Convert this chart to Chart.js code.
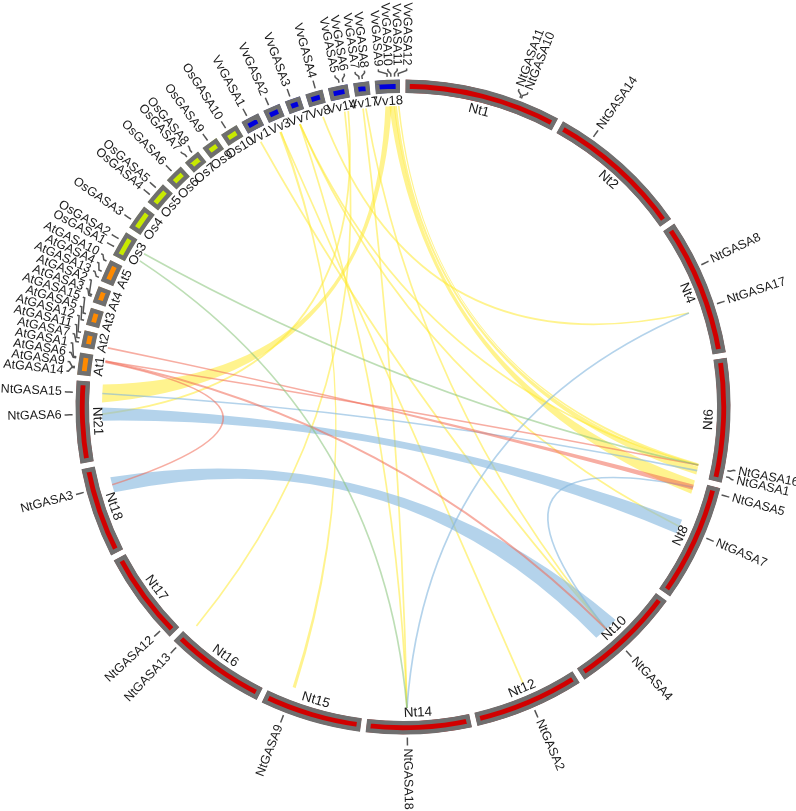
<!DOCTYPE html>
<html>
<head>
<meta charset="utf-8">
<script src="https://cdn.jsdelivr.net/npm/chart.js@4.4.1/dist/chart.umd.min.js"></script>
<style>
  html, body { margin: 0; padding: 0; background: #fff; }
  #caja { width: 796px; height: 811px; position: relative; }
</style>
</head>
<body>
<div id="caja"><canvas id="lienzo"></canvas></div>
<script>
// Chromosomes clockwise from the top, with their relative sizes on the ring
const chromosomes = ["Nt1","Nt2","Nt4","Nt6","Nt8","Nt10","Nt12","Nt14","Nt15","Nt16","Nt17","Nt18","Nt21",
                     "At1","At2","At3","At4","At5",
                     "Os3","Os4","Os5","Os6","Os7","Os9","Os10",
                     "Vv1","Vv3","Vv7","Vv8","Vv14","Vv17","Vv18"];
const chromosomeSizes = [27.7,25.6,24.3,21.9,20.9,19.9,19.4,18.6,17.9,17.8,16.5,15.9,14.5,
                         3.8,2.9,3.0,2.9,3.9,
                         4.5,4.4,4.0,3.3,2.9,2.9,3.1,
                         3.2,3.0,2.7,3.0,3.4,2.7,4.3];

// GASA genes: chromosome and relative position (0 = start, 1 = end)
const geneNames = ["NtGASA11","NtGASA10","NtGASA14","NtGASA8","NtGASA17","NtGASA16","NtGASA1","NtGASA5","NtGASA7",
                   "NtGASA4","NtGASA2","NtGASA18","NtGASA9","NtGASA13","NtGASA12","NtGASA3","NtGASA6","NtGASA15",
                   "AtGASA14","AtGASA9","AtGASA6","AtGASA1","AtGASA7","AtGASA11","AtGASA12","AtGASA5","AtGASA15",
                   "AtGASA3","AtGASA2","AtGASA13","AtGASA4","AtGASA10",
                   "OsGASA1","OsGASA2","OsGASA3","OsGASA4","OsGASA5","OsGASA6","OsGASA7","OsGASA8","OsGASA9","OsGASA10",
                   "VvGASA1","VvGASA2","VvGASA3","VvGASA4","VvGASA5","VvGASA6","VvGASA7","VvGASA8",
                   "VvGASA9","VvGASA10","VvGASA11","VvGASA12"];
const geneChromosomes = ["Nt1","Nt1","Nt2","Nt4","Nt4","Nt6","Nt6","Nt8","Nt8",
                         "Nt10","Nt12","Nt14","Nt15","Nt16","Nt17","Nt18","Nt21","Nt21",
                         "At1","At1","At1","At1","At2","At2","At2","At3","At3",
                         "At4","At4","At5","At5","At5",
                         "Os3","Os3","Os4","Os5","Os5","Os6","Os7","Os7","Os9","Os10",
                         "Vv1","Vv3","Vv7","Vv8","Vv14","Vv14","Vv17","Vv17",
                         "Vv18","Vv18","Vv18","Vv18"];
const genePositions = [0.73,0.74,0.23,0.35,0.65,0.90,0.95,0.05,0.43,
                       0.56,0.47,0.61,0.76,0.94,0.11,0.75,0.59,0.86,
                       0.30,0.35,0.75,0.80,0.25,0.50,0.85,0.20,0.60,
                       0.30,0.40,0.10,0.40,0.90,
                       0.30,0.65,0.30,0.30,0.70,0.50,0.30,0.70,0.50,0.40,
                       0.40,0.40,0.40,0.63,0.60,0.80,0.40,0.60,
                       0.50,0.65,0.80,0.95];

// Collinear pairs and the size of the block at each end
const linkSources = ["VvGASA9","VvGASA10","VvGASA11","VvGASA12","VvGASA1","VvGASA2","VvGASA2","VvGASA3","VvGASA3",
                     "VvGASA4","VvGASA5","VvGASA7","VvGASA8","VvGASA6","VvGASA3",
                     "NtGASA6","NtGASA3","NtGASA15","NtGASA17","NtGASA5",
                     "AtGASA6","AtGASA1","AtGASA7","AtGASA1",
                     "OsGASA2","OsGASA1"];
const linkTargets = ["NtGASA15","NtGASA5","NtGASA1","NtGASA16","NtGASA4","NtGASA2","NtGASA9","NtGASA18","NtGASA7",
                     "NtGASA17","NtGASA13","NtGASA18","NtGASA4","NtGASA6","NtGASA16",
                     "NtGASA7","NtGASA4","NtGASA1","NtGASA18","NtGASA4",
                     "NtGASA3","NtGASA16","NtGASA5","NtGASA4",
                     "NtGASA16","NtGASA18"];
const linkSourceSpans = [1.2,1.0,0.6,0.3,0.3,0.3,0.5,0.3,0.3,
                         0.3,0.3,0.3,0.3,0.3,0.3,
                         2.5,3.0,0.3,0.3,0.3,
                         0.3,0.3,0.3,0.3,
                         0.3,0.3];
const linkTargetSpans = [3.4,2.6,1.5,0.6,0.3,0.3,0.6,0.3,0.3,
                         0.3,0.3,0.3,0.3,0.3,0.3,
                         2.8,5.0,0.3,0.3,0.3,
                         0.3,0.3,1.0,0.4,
                         0.3,0.3];

const GAP = 1.1;
const barColors = { Nt: '#d10000', At: '#ff8a00', Os: '#c8ea00', Vv: '#0000dc' };
const linkColors = {
  Nt: 'rgba(130,182,222,0.6)',
  At: 'rgba(240,105,85,0.55)',
  Os: 'rgba(135,195,120,0.55)',
  Vv: 'rgba(255,234,50,0.55)'
};
const especie = n => n.slice(0, 2);

// ring data: every chromosome followed by a blank gap slice
const ringValues = [], ringColors = [], ringBorders = [], ringLabels = [];
chromosomes.forEach((c, i) => {
  ringValues.push(chromosomeSizes[i], GAP);
  ringLabels.push(c, '');
  ringColors.push(barColors[especie(c)], 'rgba(0,0,0,0)');
  ringBorders.push(4, 0);
});

const FUENTE = "'Liberation Sans', Arial, sans-serif";

function punto(cx, cy, r, a) {
  return [cx + r * Math.cos(a), cy + r * Math.sin(a)];
}
function gradosArriba(a) {
  let d = a * 180 / Math.PI + 90;
  d = ((d % 360) + 360) % 360;
  return d;
}

const circosPlugin = {
  id: 'circos',
  afterDatasetsDraw(chart) {
    const ctx = chart.ctx;
    const arcs = chart.getDatasetMeta(0).data;
    const cx = arcs[0].x, cy = arcs[0].y;
    const rOut = arcs[0].outerRadius;
    const rLink = rOut - 26.5;
    const unidad = (arcs[0].endAngle - arcs[0].startAngle) / chromosomeSizes[0];

    const arcoDe = {};
    chromosomes.forEach((c, i) => arcoDe[c] = arcs[2 * i]);

    const genes = geneNames.map((name, i) => {
      const arc = arcoDe[geneChromosomes[i]];
      return { name, a: arc.startAngle + genePositions[i] * (arc.endAngle - arc.startAngle) };
    });
    const genPorNombre = {};
    genes.forEach(g => genPorNombre[g.name] = g);

    // ---- links ----
    ctx.save();
    linkSources.forEach((s, j) => {
      const gs = genPorNombre[s], gt = genPorNombre[linkTargets[j]];
      const key = especie(s) === 'Nt' ? especie(linkTargets[j]) : especie(s);
      const color = linkColors[key];
      let diff = gt.a - gs.a;
      while (diff > Math.PI) diff -= 2 * Math.PI;
      while (diff < -Math.PI) diff += 2 * Math.PI;
      const d = Math.abs(diff);
      const k = 0.25 * (1 - d / Math.PI);
      const mid = gs.a + diff / 2;
      const [qx, qy] = punto(cx, cy, k * rLink, mid);
      const ws = linkSourceSpans[j] * unidad, wt = linkTargetSpans[j] * unidad;
      if (linkSourceSpans[j] <= 0.4 && linkTargetSpans[j] <= 0.4) {
        const [x0, y0] = punto(cx, cy, rLink, gs.a);
        const [x1, y1] = punto(cx, cy, rLink, gt.a);
        ctx.beginPath();
        ctx.moveTo(x0, y0);
        ctx.quadraticCurveTo(qx, qy, x1, y1);
        ctx.strokeStyle = color;
        ctx.lineWidth = Math.max(1.7, (ws + wt) / 2 * rLink);
        ctx.stroke();
      } else {
        const s0 = gs.a - ws / 2, s1 = gs.a + ws / 2;
        const t0 = gt.a - wt / 2, t1 = gt.a + wt / 2;
        const [ax, ay] = punto(cx, cy, rLink, s0);
        const [bx, by] = punto(cx, cy, rLink, t0);
        ctx.beginPath();
        ctx.moveTo(ax, ay);
        ctx.arc(cx, cy, rLink, s0, s1);
        ctx.quadraticCurveTo(qx, qy, bx, by);
        ctx.arc(cx, cy, rLink, t0, t1);
        ctx.quadraticCurveTo(qx, qy, ax, ay);
        ctx.closePath();
        ctx.fillStyle = color;
        ctx.fill();
      }
    });
    ctx.restore();

    // ---- chromosome names inside the ring ----
    ctx.save();
    ctx.fillStyle = '#1a1a1a';
    ctx.textAlign = 'center';
    ctx.textBaseline = 'middle';
    chromosomes.forEach((c, i) => {
      const arc = arcs[2 * i];
      const am = (arc.startAngle + arc.endAngle) / 2;
      const [x, y] = punto(cx, cy, rOut - 21.5, am);
      const g = gradosArriba(am);
      let rot = am + Math.PI / 2;
      if (g > 90 && g < 270) rot += Math.PI;
      ctx.save();
      ctx.translate(x, y);
      ctx.rotate(rot);
      ctx.font = (especie(c) === 'Nt' ? '13.5px ' : '13px ') + FUENTE;
      ctx.fillText(c, 0, 0);
      ctx.restore();
    });
    ctx.restore();

    // ---- gene labels spread apart so they do not overlap ----
    const sep = 1.6 * Math.PI / 180;
    const orden = genes.slice().sort((p, q) => p.a - q.a);
    const grupos = [];
    const colocar = gr => {
      const m = (gr[0].a + gr[gr.length - 1].a) / 2;
      gr.forEach((g, i) => g.la = m - (gr.length - 1) / 2 * sep + i * sep);
    };
    orden.forEach(g => {
      grupos.push([g]);
      colocar(grupos[grupos.length - 1]);
      while (grupos.length > 1) {
        const b = grupos[grupos.length - 1], p = grupos[grupos.length - 2];
        if (b[0].la - p[p.length - 1].la >= sep) break;
        grupos.pop(); grupos.pop();
        const unido = p.concat(b);
        colocar(unido);
        grupos.push(unido);
      }
    });

    ctx.save();
    ctx.strokeStyle = '#555';
    ctx.lineWidth = 1.5;
    ctx.fillStyle = '#1a1a1a';
    ctx.font = '12.5px ' + FUENTE;
    ctx.textBaseline = 'middle';
    genes.forEach(g => {
      const p1 = punto(cx, cy, rOut + 3, g.a);
      const p2 = punto(cx, cy, rOut + 6, g.a);
      const p3 = punto(cx, cy, rOut + 9, g.la);
      const p4 = punto(cx, cy, rOut + 11, g.la);
      ctx.beginPath();
      ctx.moveTo(p1[0], p1[1]);
      ctx.lineTo(p2[0], p2[1]);
      ctx.lineTo(p3[0], p3[1]);
      ctx.lineTo(p4[0], p4[1]);
      ctx.stroke();
      const [x, y] = punto(cx, cy, rOut + 14, g.la);
      ctx.save();
      ctx.translate(x, y);
      if (gradosArriba(g.a) <= 180) {
        ctx.rotate(g.la);
        ctx.textAlign = 'left';
      } else {
        ctx.rotate(g.la + Math.PI);
        ctx.textAlign = 'right';
      }
      ctx.fillText(g.name, 0, 0);
      ctx.restore();
    });
    ctx.restore();
  }
};

const contexto = document.getElementById("lienzo").getContext("2d");
const grafico = new Chart(contexto, {
  type: 'doughnut',
  data: {
    labels: ringLabels,
    datasets: [{
      data: ringValues,
      backgroundColor: ringColors,
      borderColor: '#6f6f6f',
      borderWidth: ringBorders,
      borderAlign: 'inner',
      hoverOffset: 0
    }]
  },
  options: {
    responsive: true,
    maintainAspectRatio: false,
    animation: false,
    events: [],
    rotation: 0.5,
    radius: 327.5,
    cutout: (314 / 327.5 * 100) + '%',
    layout: { padding: { left: 10, top: 3 } },
    plugins: {
      legend: { display: false },
      tooltip: { enabled: false }
    }
  },
  plugins: [circosPlugin]
});
</script>
</body>
</html>
